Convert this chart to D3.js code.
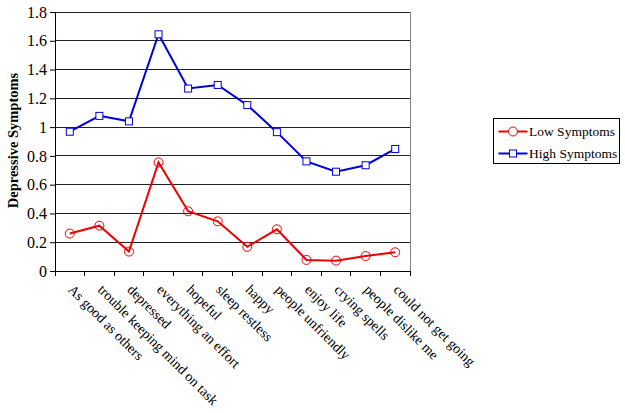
<!DOCTYPE html>
<html>
<head>
<meta charset="utf-8">
<script src="https://cdn.jsdelivr.net/npm/d3@7"></script>
<style>
  body { margin: 0; background: #fff; }
</style>
</head>
<body>
<div id="chart"></div>
<script>
const categories = [
    "As good as others",
    "trouble keeping mind on task",
    "depressed",
    "everything an effort",
    "hopeful",
    "sleep restless",
    "happy",
    "people unfriendly",
    "enjoy life",
    "crying spells",
    "people dislike me",
    "could not get going",
];
const lowSymptoms = [0.26, 0.315, 0.135, 0.755, 0.415, 0.345, 0.168, 0.29, 0.077, 0.072, 0.104, 0.13];
const highSymptoms = [0.968, 1.078, 1.04, 1.645, 1.268, 1.293, 1.153, 0.965, 0.762, 0.69, 0.735, 0.848];
const yTicks = [0, 0.2, 0.4, 0.6, 0.8, 1, 1.2, 1.4, 1.6, 1.8];

const width = 625, height = 413;
const margin = { left: 55, right: 215, top: 12, bottom: 142 };
const plotW = width - margin.left - margin.right;
const plotH = height - margin.top - margin.bottom;
const serif = "Liberation Serif";

const svg = d3.select("#chart").append("svg")
    .attr("width", width)
    .attr("height", height)
    .attr("font-family", serif);

const g = svg.append("g")
    .attr("transform", `translate(${margin.left},${margin.top})`);

const x = d3.scaleBand().domain(categories).range([0, plotW]);
const y = d3.scaleLinear().domain([0, 1.8]).range([plotH, 0]);

// gridlines
g.selectAll(".grid")
    .data(yTicks.slice(1))
    .enter().append("line")
    .attr("x1", 0).attr("x2", plotW)
    .attr("y1", d => y(d)).attr("y2", d => y(d))
    .style("stroke", "#222")
    .style("stroke-width", "1px")
    .style("shape-rendering", "crispEdges");

// right border
g.append("line")
    .attr("x1", plotW).attr("x2", plotW)
    .attr("y1", 0).attr("y2", plotH)
    .style("stroke", "#808080")
    .style("shape-rendering", "crispEdges");

// y axis
const yAxis = g.append("g")
    .call(d3.axisLeft(y).tickValues(yTicks).tickSize(5).tickFormat(d => d3.format("")(d)));
yAxis.attr("font-family", serif).attr("font-size", 16);
yAxis.select(".domain").style("stroke", "#000");
yAxis.selectAll("text").attr("x", -8).attr("fill", "#000");

// x axis with ticks between categories
const xAxis = g.append("g").attr("transform", `translate(0,${plotH})`);
xAxis.append("line")
    .attr("x1", 0).attr("x2", plotW)
    .style("stroke", "#000")
    .style("shape-rendering", "crispEdges");
xAxis.selectAll(".tick")
    .data(d3.range(categories.length + 1))
    .enter().append("line")
    .attr("x1", i => i * x.step()).attr("x2", i => i * x.step())
    .attr("y1", 0).attr("y2", 5)
    .style("stroke", "#000")
    .style("shape-rendering", "crispEdges");
xAxis.selectAll(".xlabel")
    .data(categories)
    .enter().append("text")
    .attr("transform", d => `translate(${x(d) + x.bandwidth() / 2 + 1},${16}) rotate(45)`)
    .attr("dy", "0.35em")
    .attr("font-family", serif)
    .attr("font-size", 14)
    .style("text-anchor", "start")
    .text(d => d);

// y label
svg.append("text")
    .attr("transform", `translate(18,${margin.top + plotH / 2 - 1}) rotate(-90)`)
    .attr("font-family", serif)
    .attr("font-size", 14.5)
    .attr("font-weight", "bold")
    .style("text-anchor", "middle")
    .text("Depressive Symptoms");

const cx = (d, i) => x(categories[i]) + x.bandwidth() / 2;
const line = d3.line().x(cx).y(d => y(d));

// high series
g.append("path")
    .datum(highSymptoms)
    .attr("d", line)
    .style("fill", "none")
    .style("stroke", "#0000dd")
    .style("stroke-width", "2px");
g.selectAll(".hi")
    .data(highSymptoms)
    .enter().append("rect")
    .attr("x", (d, i) => cx(d, i) - 3.5)
    .attr("y", d => y(d) - 3.5)
    .attr("width", 7).attr("height", 7)
    .style("fill", "#fff")
    .style("stroke", "#0000dd")
    .style("stroke-width", "1px");

// low series
g.append("path")
    .datum(lowSymptoms)
    .attr("d", line)
    .style("fill", "none")
    .style("stroke", "#ee0000")
    .style("stroke-width", "2px");
g.selectAll(".lo")
    .data(lowSymptoms)
    .enter().append("circle")
    .attr("cx", cx)
    .attr("cy", d => y(d))
    .attr("r", 4.5)
    .style("fill", "none")
    .style("stroke", "#ee0000")
    .style("stroke-width", "1px");

// legend
const legend = svg.append("g").attr("transform", "translate(493.5,118.5)");
legend.append("rect")
    .attr("width", 126).attr("height", 45)
    .style("fill", "#fff")
    .style("stroke", "#000")
    .style("stroke-width", "1px");
const legendItems = [
    { name: "Low Symptoms", color: "#ee0000", shape: "circle" },
    { name: "High Symptoms", color: "#0000dd", shape: "square" },
];
legendItems.forEach((item, i) => {
    const ly = 13 + i * 22;
    legend.append("line")
        .attr("x1", 5).attr("x2", 34)
        .attr("y1", ly).attr("y2", ly)
        .style("stroke", item.color)
        .style("stroke-width", "2px");
    if (item.shape === "circle") {
        legend.append("circle")
            .attr("cx", 19.5).attr("cy", ly).attr("r", 4.5)
            .style("fill", "#fff")
            .style("stroke", item.color);
    } else {
        legend.append("rect")
            .attr("x", 16).attr("y", ly - 3.5)
            .attr("width", 7).attr("height", 7)
            .style("fill", "#fff")
            .style("stroke", item.color);
    }
    legend.append("text")
        .attr("x", 35.5).attr("y", ly)
        .attr("dy", "0.35em")
        .attr("font-family", serif)
        .attr("font-size", 13.5)
        .text(item.name);
});
</script>
</body>
</html>
